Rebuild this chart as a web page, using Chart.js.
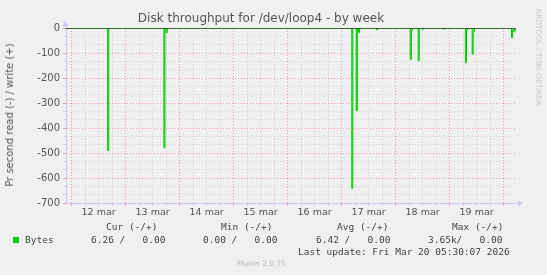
<!DOCTYPE html>
<html>
<head>
<meta charset="utf-8">
<script src="https://cdn.jsdelivr.net/npm/chart.js@4.4.1/dist/chart.umd.min.js"></script>
<style>
  html, body { margin: 0; padding: 0; background: #f0f0f0; }
  #wrap { position: relative; width: 547px; height: 275px; overflow: hidden; }
  canvas { position: absolute; left: 0; top: 0; }
  .t { position: absolute; white-space: pre; line-height: 12px; color: #444; }
  .mono { font-family: "DejaVu Sans Mono", monospace; font-size: 9.5px; }
  .sans { font-family: "DejaVu Sans", sans-serif; }
</style>
</head>
<body>
<div id="wrap">
  <canvas id="disk-chart" width="547" height="275"></canvas>
  <div class="t sans" id="title" style="left:0;width:522px;top:12px;text-align:center;font-size:12px;color:#555;">Disk throughput for /dev/loop4 - by week</div>
  <div class="t sans" style="left:10px;top:115px;font-size:10px;color:#555;transform:translate(-50%,-50%) rotate(-90deg);">Pr second read (-) / write (+)</div>
  <div class="t sans" style="left:538px;top:57px;font-size:7.5px;color:#c8c8c8;transform:translate(-50%,-50%) rotate(90deg);">RRDTOOL / TOBI OETIKER</div>

  <div class="t mono" style="left:106px;top:221px;">Cur (-/+)</div>
  <div class="t mono" style="left:221px;top:221px;">Min (-/+)</div>
  <div class="t mono" style="left:337px;top:221px;">Avg (-/+)</div>
  <div class="t mono" style="left:452px;top:221px;">Max (-/+)</div>

  <div style="position:absolute;left:13px;top:237px;width:6px;height:6px;background:#00cc00;"></div>
  <div class="t mono" style="left:25px;top:234px;">Bytes</div>
  <div class="t mono" style="left:91px;top:234px;">6.26 /   0.00</div>
  <div class="t mono" style="left:203px;top:234px;">0.00 /   0.00</div>
  <div class="t mono" style="left:316px;top:234px;">6.42 /   0.00</div>
  <div class="t mono" style="left:428px;top:234px;">3.65k/   0.00</div>

  <div class="t mono" style="left:298px;top:246px;">Last update: Fri Mar 20 05:30:07 2026</div>
  <div class="t sans" style="left:237px;top:258px;font-size:7.5px;color:#bbb;">Munin 2.0.75</div>
</div>

<script>
// hours counted from 12 mar 00:00
const startHour = -2.5;   // 11 mar 21:30
const endHour = 197.5;    // 20 mar 05:30

const dayLabels = ['12 mar', '13 mar', '14 mar', '15 mar', '16 mar', '17 mar', '18 mar', '19 mar'];
const dayLabelHours = [12, 36, 60, 84, 108, 132, 156, 180];

const yTickLabels = [0, -100, -200, -300, -400, -500, -600, -700];
const yMin = -700;
const yMax = 0;
const yMinorPerMajor = 3;

// read bytes per second (drawn negative), 30 min samples
const sampleHours = [
    -2.5, 15.5, 16, 16.5,
    40.5, 41, 41.5, 42, 42.5,
    124, 124.5, 125, 126, 126.5, 127, 127.5, 128,
    135, 135.5, 136,
    150, 150.5, 151, 151.5,
    153.5, 154, 154.5,
    155.5, 156, 156.5,
    164.5, 165, 165.5,
    174.5, 175, 175.5, 176,
    177.5, 178, 178.5, 179,
    195, 195.5, 196, 196.5, 197, 197.5
];
const readValues = [
    0, 0, -490, 0,
    0, -479, 0, -18, 0,
    0, -641, 0, 0, -331, 0, -18, 0,
    0, -7, 0,
    0, -125, -10, 0,
    0, -131, 0,
    0, -5, 0,
    0, -4, 0,
    0, -139, -10, 0,
    0, -105, -15, 0,
    0, -39, -8, -15, -5, 0
];

const redGrid = 'rgba(235, 90, 90, 0.55)';
const grayGrid = 'rgba(200, 200, 200, 0.7)';
const axisColor = '#c8c8f0';

document.addEventListener('DOMContentLoaded', function() {
    initDiskChart();
});

function initDiskChart() {
    const ctx = document.getElementById('disk-chart').getContext('2d');

    const readPoints = sampleHours.map((h, i) => ({ x: h, y: readValues[i] }));
    const zeroLine = [{ x: startHour, y: 0 }, { x: endHour, y: 0 }];

    const xGrid = [];
    for (let h = 0; h <= endHour; h += 6) xGrid.push(h);

    // minor y grid lines, every third one is a labelled major
    const yGrid = [];
    const nMinor = (yTickLabels.length - 1) * yMinorPerMajor;
    for (let k = 0; k <= nMinor; k++) {
        yGrid.push({ value: yMin + k * (yMax - yMin) / nMinor, major: k % yMinorPerMajor === 0 });
    }

    const arrows = {
        id: 'arrows',
        afterDraw(chart) {
            const a = chart.chartArea;
            const c = chart.ctx;
            c.save();
            c.strokeStyle = axisColor;
            c.fillStyle = axisColor;
            c.lineWidth = 1;
            c.beginPath();
            c.moveTo(a.left - 0.5, a.top);
            c.lineTo(a.left - 0.5, a.top - 3);
            c.moveTo(a.right, a.bottom + 0.5);
            c.lineTo(a.right + 3, a.bottom + 0.5);
            c.stroke();
            c.beginPath();
            c.moveTo(a.left - 3.5, a.top - 2);
            c.lineTo(a.left + 2.5, a.top - 2);
            c.lineTo(a.left - 0.5, a.top - 7);
            c.closePath();
            c.fill();
            c.beginPath();
            c.moveTo(a.right + 2, a.bottom - 2.5);
            c.lineTo(a.right + 2, a.bottom + 3.5);
            c.lineTo(a.right + 7, a.bottom + 0.5);
            c.closePath();
            c.fill();
            c.restore();
        }
    };

    new Chart(ctx, {
        type: 'line',
        data: {
            datasets: [
                {
                    label: 'zero',
                    data: zeroLine,
                    borderColor: '#000000',
                    borderWidth: 1,
                    pointRadius: 0,
                    fill: false
                },
                {
                    label: 'Bytes',
                    data: readPoints,
                    borderColor: '#00cc00',
                    backgroundColor: 'rgba(0, 204, 0, 0.45)',
                    borderWidth: 1,
                    pointRadius: 0,
                    stepped: true,
                    fill: 'origin'
                }
            ]
        },
        options: {
            responsive: false,
            animation: false,
            events: [],
            layout: {
                padding: { top: 28, right: 31, left: 0, bottom: 0 }
            },
            scales: {
                x: {
                    type: 'linear',
                    min: startHour,
                    max: endHour,
                    afterFit: function(scale) { scale.height = 72; },
                    afterBuildTicks: function(scale) {
                        scale.ticks = xGrid.map(v => ({ value: v }));
                    },
                    ticks: {
                        autoSkip: false,
                        maxRotation: 0,
                        padding: 1,
                        color: '#555',
                        font: { family: 'DejaVu Sans', size: 9.5 },
                        callback: function(value) {
                            const i = dayLabelHours.indexOf(value);
                            return i >= 0 ? dayLabels[i] : '';
                        }
                    },
                    grid: {
                        color: function(c) {
                            return c.tick && c.tick.value % 24 === 0 ? redGrid : grayGrid;
                        },
                        tickLength: 3,
                        tickBorderDash: []
                    },
                    border: { color: axisColor, dash: [1, 2] }
                },
                y: {
                    type: 'linear',
                    min: yMin,
                    max: yMax,
                    afterFit: function(scale) { scale.width = 66; },
                    afterBuildTicks: function(scale) {
                        scale.ticks = yGrid.map(g => ({ value: g.value, major: g.major }));
                    },
                    ticks: {
                        autoSkip: false,
                        padding: 3,
                        color: '#555',
                        font: { family: 'DejaVu Sans', size: 10 },
                        callback: function(value, index) {
                            return yGrid[index].major ? String(Math.round(value)) : '';
                        }
                    },
                    grid: {
                        color: function(c) {
                            return c.tick && yGrid[c.index] && yGrid[c.index].major ? redGrid : grayGrid;
                        },
                        tickLength: 3,
                        tickBorderDash: []
                    },
                    border: { color: axisColor, dash: [1, 2] }
                }
            },
            plugins: {
                legend: { display: false },
                title: { display: false },
                tooltip: { enabled: false }
            }
        },
        plugins: [arrows]
    });
}
</script>
</body>
</html>
